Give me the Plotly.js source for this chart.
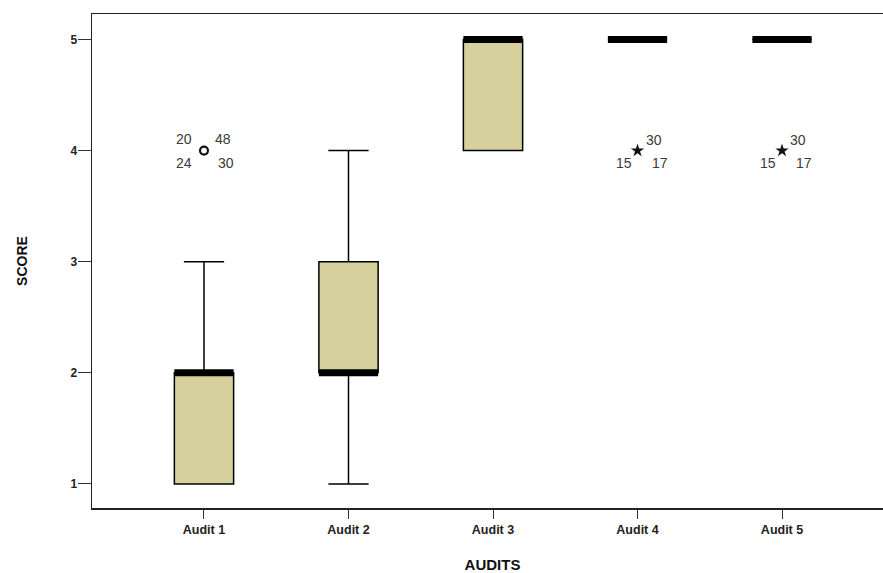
<!DOCTYPE html>
<html>
<head>
<meta charset="utf-8">
<script src="https://cdn.plot.ly/plotly-3.0.1.min.js"></script>
<style>html,body{margin:0;padding:0;background:#fff;overflow:hidden;}#chart{width:893px;height:573px;}</style>
</head>
<body>
<div id="chart"></div>
<script>
// ---- data ----
var categories = ["Audit 1", "Audit 2", "Audit 3", "Audit 4", "Audit 5"];
var q1Values = [1, 2, 4, 5, 5];
var medianValues = [2, 2, 5, 5, 5];
var q3Values = [2, 3, 5, 5, 5];
var lowerWhisker = [1, 1, 4, 5, 5];
var upperWhisker = [3, 4, 5, 5, 5];

// outliers: category, value, kind ("o" = outlier, "*" = extreme)
var outlierCategory = ["Audit 1", "Audit 4", "Audit 5"];
var outlierValue = [4, 4, 4];
var outlierKind = ["o", "*", "*"];
// case labels attached to each outlier
var outlierLabels = [
  ["20", "48", "24", "30"],
  ["30", "15", "17"],
  ["30", "15", "17"]
];

// ---- styling / layout helpers ----
var boxWidth = 0.41;
var fillColor = "#d6d19c";
var labelOffsets = {
  4: [[-20, 12], [19, 12], [-20, -12], [22, -12]],
  3: [[16, 11], [-14, -12], [22, -12]]
};
var FONT = "Liberation Sans, Arial, sans-serif";

var traces = [{
  type: "box",
  x: categories,
  q1: q1Values,
  median: medianValues,
  q3: q3Values,
  lowerfence: lowerWhisker,
  upperfence: upperWhisker,
  width: boxWidth,
  whiskerwidth: 0.68,
  fillcolor: fillColor,
  line: {color: "#000", width: 1.5},
  boxpoints: false,
  hoverinfo: "skip",
  showlegend: false
}];

// outlier markers
outlierKind.forEach(function (k, i) {
  traces.push({
    type: "scatter",
    mode: "markers",
    x: [outlierCategory[i]],
    y: [outlierValue[i]],
    marker: k === "o"
      ? {symbol: "circle-open", size: 8, color: "#111", line: {width: 2.2, color: "#111"}}
      : {symbol: "star", size: 10, color: "#111", line: {width: 0}},
    showlegend: false,
    hoverinfo: "skip"
  });
});

// thick median bars (from median data)
var shapes = medianValues.map(function (m, i) {
  return {
    type: "line", xref: "x", yref: "y",
    x0: i - boxWidth / 2, x1: i + boxWidth / 2,
    y0: m, y1: m,
    line: {color: "#000", width: 7}
  };
});

var annotations = [];
outlierLabels.forEach(function (labs, i) {
  var offs = labelOffsets[labs.length];
  labs.forEach(function (t, j) {
    annotations.push({
      x: categories.indexOf(outlierCategory[i]), y: outlierValue[i],
      xref: "x", yref: "y",
      text: t, showarrow: false,
      xshift: offs[j][0], yshift: offs[j][1],
      font: {family: FONT, size: 14, color: "#3a3a3a"}
    });
  });
});

var layout = {
  width: 893, height: 573,
  margin: {l: 91.5, r: 0, t: 13.5, b: 65, pad: 0},
  paper_bgcolor: "#fff",
  plot_bgcolor: "#fff",
  showlegend: false,
  shapes: shapes,
  annotations: annotations,
  xaxis: {
    type: "category",
    categoryorder: "array",
    categoryarray: categories,
    range: [-0.775, 4.768],
    showgrid: false,
    zeroline: false,
    showline: true,
    mirror: true,
    linecolor: "#222",
    linewidth: 1.5,
    ticks: "outside",
    ticklen: 9,
    tickwidth: 1,
    tickcolor: "#333",
    tickfont: {family: FONT, size: 12.5, color: "#222", weight: "bold"},
    title: {text: "AUDITS", standoff: 26,
      font: {family: FONT, size: 15, color: "#111", weight: "bold"}}
  },
  yaxis: {
    range: [0.784, 5.229],
    tickvals: [1, 2, 3, 4, 5],
    showgrid: false,
    zeroline: false,
    showline: true,
    linecolor: "#222",
    linewidth: 1.5,
    ticks: "outside",
    ticklen: 13,
    tickwidth: 1,
    tickcolor: "#333",
    ticklabelstandoff: -2,
    tickfont: {family: FONT, size: 12, color: "#222", weight: "bold"},
    title: {text: "SCORE", standoff: 39,
      font: {family: FONT, size: 14, color: "#111", weight: "bold"}}
  }
};

Plotly.newPlot("chart", traces, layout, {displayModeBar: false, staticPlot: true});
</script>
</body>
</html>
